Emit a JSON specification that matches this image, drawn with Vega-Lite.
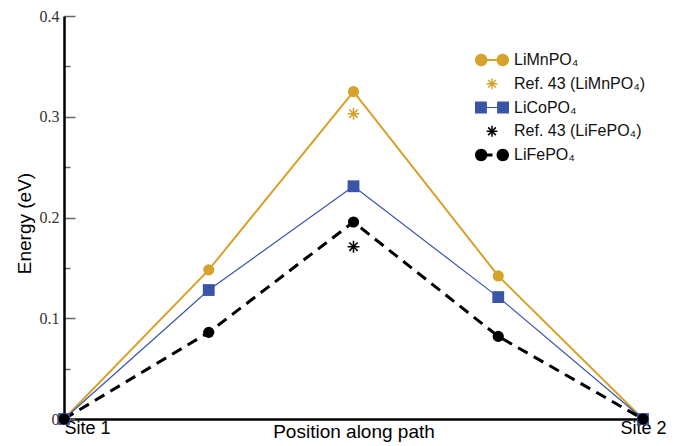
{
  "$schema": "https://vega.github.io/schema/vega-lite/v6.json",
  "autosize": {"type": "none"},
  "width": 579,
  "height": 403,
  "padding": {"left": 64, "top": 16, "right": 31, "bottom": 27},
  "background": "white",
  "config": {"view": {"stroke": null}},
  "datasets": {
    "curves": [
      {"series": "LiMnPO₄", "pos": 0, "energy": 0},
      {"series": "LiMnPO₄", "pos": 1, "energy": 0.148},
      {"series": "LiMnPO₄", "pos": 2, "energy": 0.325},
      {"series": "LiMnPO₄", "pos": 3, "energy": 0.142},
      {"series": "LiMnPO₄", "pos": 4, "energy": 0},
      {"series": "LiCoPO₄", "pos": 0, "energy": 0},
      {"series": "LiCoPO₄", "pos": 1, "energy": 0.128},
      {"series": "LiCoPO₄", "pos": 2, "energy": 0.231},
      {"series": "LiCoPO₄", "pos": 3, "energy": 0.121},
      {"series": "LiCoPO₄", "pos": 4, "energy": 0},
      {"series": "LiFePO₄", "pos": 0, "energy": 0},
      {"series": "LiFePO₄", "pos": 1, "energy": 0.086},
      {"series": "LiFePO₄", "pos": 2, "energy": 0.1955},
      {"series": "LiFePO₄", "pos": 3, "energy": 0.082},
      {"series": "LiFePO₄", "pos": 4, "energy": 0}
    ],
    "refs": [
      {"series": "Ref. 43 (LiMnPO₄)", "pos": 2, "energy": 0.303},
      {"series": "Ref. 43 (LiFePO₄)", "pos": 2, "energy": 0.171}
    ],
    "legendrows": [
      {"series": "LiMnPO₄", "pos": null, "energy": null},
      {"series": "Ref. 43 (LiMnPO₄)", "pos": null, "energy": null},
      {"series": "LiCoPO₄", "pos": null, "energy": null},
      {"series": "Ref. 43 (LiFePO₄)", "pos": null, "energy": null},
      {"series": "LiFePO₄", "pos": null, "energy": null}
    ]
  },
  "encoding": {
    "x": {
      "field": "pos", "type": "quantitative",
      "scale": {"domain": [0, 4], "nice": false, "zero": false},
      "axis": {
        "values": [0, 4],
        "labelExpr": "datum.value == 0 ? 'Site 1' : 'Site 2'",
        "labelAlign": {"condition": {"test": "datum.value == 0", "value": "left"}, "value": "center"},
        "ticks": false,
        "grid": false,
        "domainColor": "black",
        "domainWidth": 2.5,
        "labelFont": "Liberation Sans",
        "labelFontSize": 18,
        "labelColor": "black",
        "labelPadding": 0,
        "labelBaseline": "top",
        "labelFlush": false,
        "title": "Position along path",
        "titleFont": "Liberation Sans",
        "titleFontSize": 19,
        "titleFontWeight": "normal",
        "titleColor": "black",
        "titleBaseline": "top",
        "titleY": 3
      }
    },
    "y": {
      "field": "energy", "type": "quantitative",
      "scale": {"domain": [0, 0.4], "nice": false},
      "axis": {
        "values": [0, 0.05, 0.1, 0.15, 0.2, 0.25, 0.3, 0.35, 0.4],
        "labelExpr": "abs(datum.value*10 - round(datum.value*10)) < 0.01 ? (datum.value == 0 ? '0' : format(datum.value, '.1f')) : ''",
        "tickSize": {"condition": {"test": "abs(datum.value*10 - round(datum.value*10)) < 0.01", "value": -11}, "value": -6},
        "tickColor": "#666666",
        "tickWidth": 1.5,
        "grid": false,
        "domainColor": "black",
        "domainWidth": 2.5,
        "labelFont": "Liberation Serif",
        "labelFontSize": 16,
        "labelColor": "#333333",
        "labelPadding": 16,
        "title": "Energy (eV)",
        "titleFont": "Liberation Sans",
        "titleFontSize": 19,
        "titleFontWeight": "normal",
        "titleColor": "black",
        "titlePadding": 5,
        "titleY": 207
      }
    }
  },
  "layer": [
    {
      "data": {"name": "legendrows"},
      "mark": {"type": "point", "filled": true, "size": 1156, "opacity": 1},
      "encoding": {
        "color": {
          "field": "series", "type": "nominal",
          "scale": {
            "domain": ["LiMnPO₄", "Ref. 43 (LiMnPO₄)", "LiCoPO₄", "Ref. 43 (LiFePO₄)", "LiFePO₄"],
            "range": ["#D6A22B", "#D6A22B", "#3A55A8", "#000000", "#000000"]
          },
          "legend": {
            "title": null,
            "orient": "none",
            "legendX": 411,
            "legendY": 36,
            "symbolSize": 1156,
            "clipHeight": 16,
            "rowPadding": 7.75,
            "labelOffset": 5,
            "labelFont": "Liberation Sans",
            "labelFontSize": 16,
            "labelColor": "#111111",
            "symbolStrokeWidth": 0,
            "symbolOpacity": 1
          }
        },
        "shape": {
          "field": "series", "type": "nominal",
          "scale": {
            "domain": ["LiMnPO₄", "Ref. 43 (LiMnPO₄)", "LiCoPO₄", "Ref. 43 (LiFePO₄)", "LiFePO₄"],
            "range": [
              "M-1,0A0.365,0.365 0 1 1 -0.27,0A0.365,0.365 0 1 1 -1,0ZM0.27,0A0.365,0.365 0 1 1 1,0A0.365,0.365 0 1 1 0.27,0ZM-0.28,-0.06L0.28,-0.06L0.28,0.06L-0.28,0.06Z",
              "M-0.04,-0.32L0.04,-0.32L0.04,0.32L-0.04,0.32ZM-0.32,-0.04L0.32,-0.04L0.32,0.04L-0.32,0.04ZM-0.198,-0.255L0.255,0.198L0.198,0.255L-0.255,-0.198ZM-0.198,0.255L-0.255,0.198L0.198,-0.255L0.255,-0.198Z",
              "M-1,-0.35L-0.3,-0.35L-0.3,0.35L-1,0.35ZM0.3,-0.35L1,-0.35L1,0.35L0.3,0.35ZM-0.31,-0.035L0.31,-0.035L0.31,0.035L-0.31,0.035Z",
              "M-0.045,-0.32L0.045,-0.32L0.045,0.32L-0.045,0.32ZM-0.32,-0.045L0.32,-0.045L0.32,0.045L-0.32,0.045ZM-0.195,-0.258L0.258,0.195L0.195,0.258L-0.258,-0.195ZM-0.195,0.258L-0.258,0.195L0.195,-0.258L0.258,-0.195Z",
              "M-1,0A0.365,0.365 0 1 1 -0.27,0A0.365,0.365 0 1 1 -1,0ZM0.27,0A0.365,0.365 0 1 1 1,0A0.365,0.365 0 1 1 0.27,0ZM-0.28,-0.09L0.03,-0.09L0.03,0.09L-0.28,0.09Z"
            ]
          }
        }
      }
    },
    {
      "data": {"name": "curves"},
      "transform": [{"filter": "datum.series == 'LiMnPO₄'"}],
      "mark": {"type": "line", "strokeWidth": 2},
      "encoding": {"color": {"field": "series", "type": "nominal", "legend": null}}
    },
    {
      "data": {"name": "curves"},
      "transform": [{"filter": "datum.series == 'LiCoPO₄'"}],
      "mark": {"type": "line", "strokeWidth": 1.2},
      "encoding": {"color": {"field": "series", "type": "nominal", "legend": null}}
    },
    {
      "data": {"name": "curves"},
      "transform": [{"filter": "datum.series == 'LiFePO₄'"}],
      "mark": {"type": "line", "strokeWidth": 3, "strokeDash": [11, 7]},
      "encoding": {"color": {"field": "series", "type": "nominal", "legend": null}}
    },
    {
      "data": {"name": "curves"},
      "transform": [{"filter": "datum.series == 'LiMnPO₄'"}],
      "mark": {"type": "point", "shape": "circle", "filled": true, "size": 125, "opacity": 1},
      "encoding": {"color": {"field": "series", "type": "nominal", "legend": null}}
    },
    {
      "data": {"name": "curves"},
      "transform": [{"filter": "datum.series == 'LiCoPO₄'"}],
      "mark": {"type": "point", "shape": "square", "filled": true, "size": 140, "opacity": 1},
      "encoding": {"color": {"field": "series", "type": "nominal", "legend": null}}
    },
    {
      "data": {"name": "refs"},
      "mark": {"type": "point", "filled": true, "size": 140, "opacity": 1,
        "shape": "M-0.13,-1L0.13,-1L0.13,1L-0.13,1ZM-1,-0.13L1,-0.13L1,0.13L-1,0.13ZM-0.615,-0.799L0.799,0.615L0.615,0.799L-0.799,-0.615ZM-0.615,0.799L-0.799,0.615L0.615,-0.799L0.799,-0.615Z"},
      "encoding": {"color": {"field": "series", "type": "nominal", "legend": null}}
    },
    {
      "data": {"name": "curves"},
      "transform": [{"filter": "datum.series == 'LiFePO₄'"}],
      "mark": {"type": "point", "shape": "circle", "filled": true, "size": 125, "opacity": 1},
      "encoding": {"color": {"field": "series", "type": "nominal", "legend": null}}
    }
  ]
}
